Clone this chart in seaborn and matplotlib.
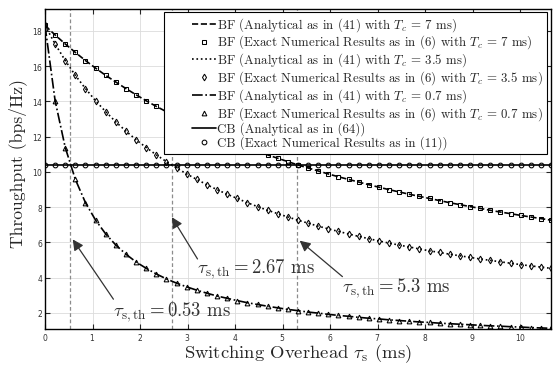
import numpy as np
import pandas as pd
import matplotlib
matplotlib.use("Agg")
import matplotlib.pyplot as plt
from matplotlib.legend_handler import HandlerLine2D
import seaborn as sns

# ---- data ----
tau_s = [0.000, 0.213, 0.426, 0.639, 0.852, 1.065, 1.278, 1.491, 1.704, 1.917,
         2.130, 2.343, 2.556, 2.769, 2.982, 3.195, 3.408, 3.621, 3.834, 4.047,
         4.260, 4.473, 4.686, 4.899, 5.112, 5.325, 5.538, 5.751, 5.964, 6.177,
         6.390, 6.603, 6.816, 7.029, 7.242, 7.455, 7.668, 7.881, 8.094, 8.307,
         8.520, 8.733, 8.946, 9.159, 9.372, 9.585, 9.798, 10.011, 10.224, 10.437,
         10.650]

bf_tc7 = [18.30, 17.76, 17.25, 16.77, 16.31, 15.88, 15.47, 15.09, 14.72, 14.37,
          14.03, 13.71, 13.41, 13.11, 12.83, 12.56, 12.31, 12.06, 11.82, 11.60,
          11.38, 11.17, 10.96, 10.77, 10.58, 10.39, 10.22, 10.05, 9.88, 9.72,
          9.57, 9.42, 9.27, 9.13, 8.99, 8.86, 8.73, 8.61, 8.49, 8.37,
          8.25, 8.14, 8.03, 7.93, 7.82, 7.72, 7.63, 7.53, 7.44, 7.35,
          7.26]

bf_tc35 = [18.30, 17.25, 16.31, 15.47, 14.72, 14.03, 13.41, 12.83, 12.31, 11.82,
           11.38, 10.96, 10.58, 10.22, 9.88, 9.57, 9.27, 8.99, 8.73, 8.49,
           8.25, 8.03, 7.82, 7.63, 7.44, 7.26, 7.09, 6.92, 6.77, 6.62,
           6.48, 6.34, 6.21, 6.08, 5.96, 5.85, 5.74, 5.63, 5.52, 5.43,
           5.33, 5.24, 5.15, 5.06, 4.98, 4.90, 4.82, 4.74, 4.67, 4.60,
           4.53]

bf_tc07 = [18.30, 14.03, 11.38, 9.57, 8.25, 7.26, 6.48, 5.85, 5.33, 4.89,
           4.53, 4.21, 3.93, 3.69, 3.48, 3.29, 3.12, 2.96, 2.83, 2.70,
           2.58, 2.48, 2.38, 2.29, 2.20, 2.13, 2.05, 1.99, 1.92, 1.86,
           1.81, 1.75, 1.70, 1.66, 1.61, 1.57, 1.53, 1.49, 1.46, 1.42,
           1.39, 1.36, 1.33, 1.30, 1.27, 1.25, 1.22, 1.20, 1.17, 1.15,
           1.13]

cb_level = [10.4] * len(tau_s)

thresholds = [0.53, 2.67, 5.3]
threshold_labels = [r"$\tau_{\rm s,th} = 0.53$ ms", r"$\tau_{\rm s,th} = 2.67$ ms",
                    r"$\tau_{\rm s,th} = 5.3$ ms"]

legend_labels = [
    r"BF (Analytical as in (41) with $T_c$ = 7 ms)",
    r"BF (Exact Numerical Results as in (6) with $T_c$ = 7 ms)",
    r"BF (Analytical as in (41) with $T_c$ = 3.5 ms)",
    r"BF (Exact Numerical Results as in (6) with $T_c$ = 3.5 ms)",
    r"BF (Analytical as in (41) with $T_c$ = 0.7 ms)",
    r"BF (Exact Numerical Results as in (6) with $T_c$ = 0.7 ms)",
    r"CB (Analytical as in (64))",
    r"CB (Exact Numerical Results as in (11))",
]

# ---- style ----
sns.set_theme(style="ticks")
plt.rcParams["font.family"] = ["cmr10", "DejaVu Serif"]
plt.rcParams["mathtext.fontset"] = "cm"
plt.rcParams["axes.formatter.use_mathtext"] = True
plt.rcParams["axes.unicode_minus"] = False

fig = plt.figure(figsize=(5.53, 3.65), dpi=100)
ax = fig.add_axes([45 / 553, 1 - 329 / 365, (551 - 45) / 553, (329 - 8.7) / 365])

df = pd.DataFrame({"tau": tau_s, "tc7": bf_tc7, "tc35": bf_tc35,
                   "tc07": bf_tc07, "cb": cb_level})

series = [("tc7", "--", "s"), ("tc35", ":", "d"), ("tc07", "-.", "^"), ("cb", "-", "o")]
handles = []
for col, ls, mk in series:
    sns.lineplot(data=df, x="tau", y=col, ax=ax, color="black", linestyle=ls,
                 linewidth=1.2, zorder=3)
    handles.append(ax.lines[-1])
    sns.lineplot(data=df, x="tau", y=col, ax=ax, color="black", linestyle="",
                 marker=mk, markersize=3.4, markerfacecolor="none",
                 markeredgecolor="black", markeredgewidth=0.75, zorder=4)
    handles.append(ax.lines[-1])

for t in thresholds:
    ax.axvline(t, color="#8c8c8c", linestyle=(0, (3, 2)), linewidth=0.9, zorder=2)

# annotations
arrow_kw = dict(arrowstyle="-|>", color="#333333", lw=0.9, mutation_scale=16,
                shrinkA=0, shrinkB=0)
ann = [((0.584, 6.17), (1.44, 2.78), (1.43, 2.07)),
       ((2.67, 7.43), (3.21, 5.06), (3.20, 4.46)),
       ((5.36, 6.10), (6.26, 4.06), (6.25, 3.42))]
for (head, tail, txt), lab in zip(ann, threshold_labels):
    ax.annotate("", xy=head, xytext=tail, arrowprops=arrow_kw, zorder=5)
    ax.text(txt[0], txt[1], lab, fontsize=13.5, color="#333333", ha="left",
            va="center", zorder=5)

ax.set_xlim(0, 10.65)
ax.set_ylim(1.09, 19.25)
ax.set_xticks(range(0, 11))
ax.set_yticks(range(2, 19, 2))
ax.grid(True, color="#dcdcdc", linewidth=0.6)
ax.set_axisbelow(True)
ax.tick_params(direction="in", length=3.5, width=0.8, top=True, right=True,
               labelsize=5.5, labelcolor="#333333")
ax.tick_params(axis="x", pad=2.0)
ax.tick_params(axis="y", pad=1.5)
for lbl in ax.get_xticklabels() + ax.get_yticklabels():
    lbl.set_family("DejaVu Sans")
for s in ax.spines.values():
    s.set_linewidth(1.0)
    s.set_color("black")

ax.set_xlabel(r"Switching Overhead $\tau_{\rm s}$ (ms)", fontsize=13.4, va="baseline")
ax.xaxis.set_label_coords(0.5, -(358.0 - 329) / 320.3)
ax.set_ylabel("Throughput (bps/Hz)", fontsize=12.7, va="center")
ax.yaxis.set_label_coords((18 - 45) / 506, (329 - 163) / 320.3)


class RightHandler(HandlerLine2D):
    def get_xdata(self, legend, xdescent, ydescent, width, height, fontsize):
        x0 = -xdescent + 0.5 * width
        x1 = width - xdescent
        return np.array([x0, x1]), np.array([0.5 * (x0 + x1)])


hm = {h: RightHandler() for h in handles}
leg = ax.legend(handles, legend_labels, loc="upper right",
                bbox_to_anchor=(547 / 553, 1 - 12 / 365), bbox_transform=fig.transFigure,
                borderaxespad=0, fontsize=9.3, frameon=True, fancybox=False,
                framealpha=1, edgecolor="black", handlelength=3.7,
                handletextpad=0.1, labelspacing=0.0, borderpad=0.3,
                handler_map=hm)
leg.get_frame().set_linewidth(0.8)
leg.set_zorder(6)

fig.savefig("out.png", dpi=100)
